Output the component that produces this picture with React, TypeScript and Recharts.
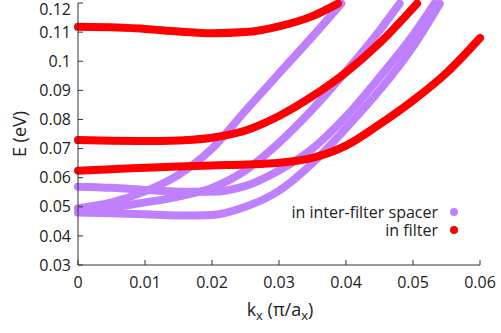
import React from 'react'
import { LineChart, Line, XAxis, YAxis, Legend } from 'recharts'

// bands localised in the filter layers
const filterTop = [
  { k: 0, e: 0.1118 }, { k: 0.005, e: 0.1117 }, { k: 0.01, e: 0.1111 }, { k: 0.015, e: 0.1102 },
  { k: 0.02, e: 0.1096 }, { k: 0.025, e: 0.11 }, { k: 0.03, e: 0.112 }, { k: 0.035, e: 0.1155 },
  { k: 0.0388, e: 0.1198 },
]
const filterMid = [
  { k: 0, e: 0.0729 }, { k: 0.005, e: 0.0727 }, { k: 0.01, e: 0.0726 }, { k: 0.015, e: 0.0728 },
  { k: 0.02, e: 0.0737 }, { k: 0.025, e: 0.0762 }, { k: 0.03, e: 0.0812 }, { k: 0.035, e: 0.088 },
  { k: 0.04, e: 0.0962 }, { k: 0.045, e: 0.1062 }, { k: 0.0506, e: 0.1198 },
]
const filterLow = [
  { k: 0, e: 0.0624 }, { k: 0.005, e: 0.0629 }, { k: 0.01, e: 0.0634 }, { k: 0.015, e: 0.0638 },
  { k: 0.02, e: 0.0642 }, { k: 0.025, e: 0.0645 }, { k: 0.03, e: 0.0651 }, { k: 0.035, e: 0.0668 },
  { k: 0.04, e: 0.071 }, { k: 0.045, e: 0.0783 }, { k: 0.05, e: 0.0865 }, { k: 0.055, e: 0.096 },
  { k: 0.06, e: 0.108 },
]

// bands localised in the spacer between filters
const spacerA = [
  { k: 0, e: 0.0495 }, { k: 0.005, e: 0.0515 }, { k: 0.01, e: 0.0553 }, { k: 0.015, e: 0.061 },
  { k: 0.02, e: 0.07 }, { k: 0.025, e: 0.083 }, { k: 0.03, e: 0.0958 }, { k: 0.035, e: 0.1085 },
  { k: 0.0393, e: 0.1198 },
]
const spacerB = [
  { k: 0, e: 0.049 }, { k: 0.005, e: 0.0498 }, { k: 0.01, e: 0.0515 }, { k: 0.015, e: 0.0535 },
  { k: 0.02, e: 0.0565 }, { k: 0.025, e: 0.0625 }, { k: 0.03, e: 0.072 }, { k: 0.035, e: 0.0835 },
  { k: 0.04, e: 0.0965 }, { k: 0.045, e: 0.1105 }, { k: 0.048, e: 0.1198 },
]
const spacerC = [
  { k: 0, e: 0.0569 }, { k: 0.005, e: 0.0565 }, { k: 0.01, e: 0.0558 }, { k: 0.015, e: 0.0552 },
  { k: 0.02, e: 0.0552 }, { k: 0.025, e: 0.0572 }, { k: 0.03, e: 0.0625 }, { k: 0.035, e: 0.07 },
  { k: 0.04, e: 0.081 }, { k: 0.045, e: 0.0945 }, { k: 0.05, e: 0.109 }, { k: 0.0532, e: 0.1198 },
]
const spacerD = [
  { k: 0, e: 0.048 }, { k: 0.005, e: 0.0478 }, { k: 0.01, e: 0.0474 }, { k: 0.015, e: 0.047 },
  { k: 0.02, e: 0.0472 }, { k: 0.025, e: 0.05 }, { k: 0.03, e: 0.0555 }, { k: 0.035, e: 0.065 },
  { k: 0.04, e: 0.077 }, { k: 0.045, e: 0.09 }, { k: 0.05, e: 0.105 }, { k: 0.054, e: 0.1198 },
]

const kTicks = [0, 0.01, 0.02, 0.03, 0.04, 0.05, 0.06]
const eTicks = [0.03, 0.04, 0.05, 0.06, 0.07, 0.08, 0.09, 0.1, 0.11, 0.12]

const SPACER = 'in inter-filter spacer'
const FILTER = 'in filter'
const PURPLE = '#bf80ff'
const RED = '#ff0000'
const FONT = '"Open Sans", sans-serif'

const spacerBands = [spacerA, spacerB, spacerC, spacerD]
const filterBands = [filterTop, filterMid, filterLow]

const tickStyle = { fontSize: 16, fill: '#222', fontFamily: FONT }

function XLabel() {
  return (
    <text x={280} y={316} textAnchor="middle" fontSize={18} fill="#222" fontFamily={FONT}>
      k<tspan fontSize={13} dy={4}>x</tspan>
      <tspan dy={-4}> (π/a</tspan>
      <tspan fontSize={13} dy={4}>x</tspan>
      <tspan dy={-4}>)</tspan>
    </text>
  )
}

function YLabel() {
  return (
    <text x={0} y={0} transform="translate(26,134) rotate(-90)" textAnchor="middle"
      fontSize={18} fill="#222" fontFamily={FONT}>
      E (eV)
    </text>
  )
}

function KeyBox() {
  const rows = [
    { name: SPACER, color: PURPLE },
    { name: FILTER, color: RED },
  ]
  return (
    <div style={{ fontFamily: FONT, fontSize: 16, color: '#222', lineHeight: '18px' }}>
      {rows.map((r) => (
        <div key={r.name} style={{ display: 'flex', justifyContent: 'flex-end', alignItems: 'center' }}>
          <span>{r.name}</span>
          <span style={{
            display: 'inline-block', width: 8, height: 8, borderRadius: 4,
            background: r.color, marginLeft: 12,
          }} />
        </div>
      ))}
    </div>
  )
}

export default function App() {
  return (
    <div style={{ position: 'absolute', left: 0, top: 0, background: '#fff' }}>
      <LineChart width={501} height={333} margin={{ top: 3, right: 21, bottom: 0, left: 0 }}>
        <XAxis
          xAxisId="b" type="number" dataKey="k" domain={[0, 0.06]} ticks={kTicks}
          height={68} tickSize={-5} tickMargin={17} stroke="#333"
          tick={tickStyle} tickFormatter={(v: number) => String(v)}
          label={{ content: () => <XLabel /> }}
        />
        <XAxis
          xAxisId="t" orientation="top" type="number" dataKey="k" domain={[0, 0.06]}
          ticks={kTicks} height={0} tickSize={-5} tick={false} stroke="#888"
        />
        <YAxis
          yAxisId="l" type="number" domain={[0.03, 0.12]} ticks={eTicks} width={78}
          tickSize={-5} tickMargin={12} stroke="#333" tick={tickStyle}
          tickFormatter={(v: number) => String(v)}
          label={{ content: () => <YLabel /> }}
        />
        <YAxis
          yAxisId="r" orientation="right" type="number" domain={[0.03, 0.12]} ticks={eTicks}
          width={0} tickSize={-5} tick={false} stroke="#888"
        />
        {spacerBands.map((band, i) => (
          <Line
            key={`s${i}`} xAxisId="b" yAxisId="l" data={band} dataKey="e" name={SPACER}
            type="monotone" stroke={PURPLE} strokeWidth={8} strokeLinecap="round" dot={false}
            isAnimationActive={false}
          />
        ))}
        {filterBands.map((band, i) => (
          <Line
            key={`f${i}`} xAxisId="b" yAxisId="l" data={band} dataKey="e" name={FILTER}
            type="monotone" stroke={RED} strokeWidth={8} strokeLinecap="round" dot={false}
            isAnimationActive={false}
          />
        ))}
        {/* horizontal + middle keeps the key from taking space off the plot */}
        <Legend
          layout="horizontal" verticalAlign="middle" align="center"
          content={() => <KeyBox />}
          wrapperStyle={{ position: 'absolute', left: 0, top: 203, width: 458 }}
        />
      </LineChart>
    </div>
  )
}
